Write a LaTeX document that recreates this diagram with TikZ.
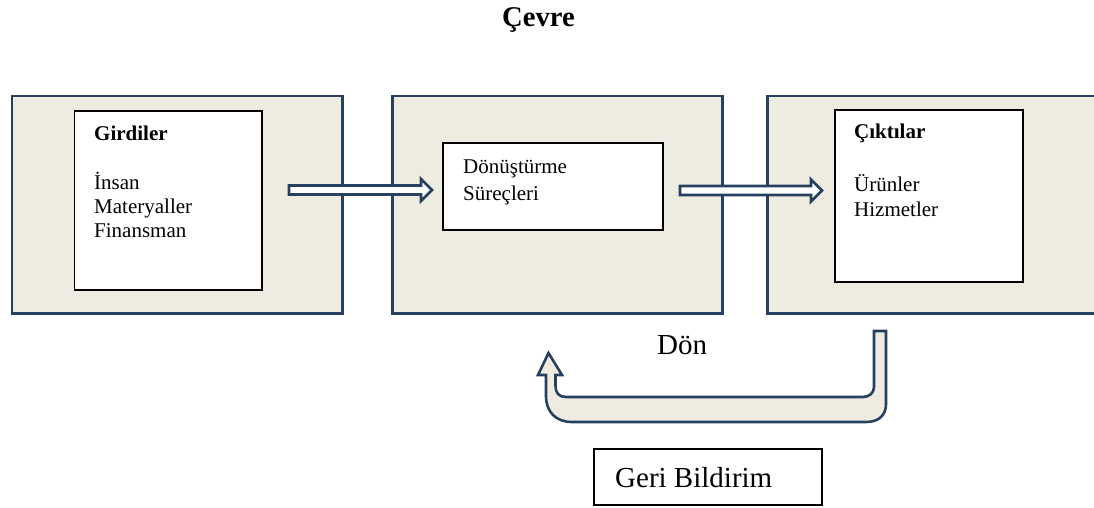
\documentclass[tikz,border=0pt]{standalone}
\usepackage{fontspec}
\setmainfont{Liberation Serif}
\definecolor{framecol}{HTML}{26405F}
\definecolor{panelcol}{HTML}{EEECE1}
\begin{document}
\begin{tikzpicture}[x=1pt,y=-1pt,
  envbox/.style={draw=framecol, fill=panelcol, line width=2.5pt, rectangle,
                 inner sep=0pt, anchor=north west},
  whitebox/.style={draw=black, fill=white, line width=1.6pt, rectangle,
                   inner sep=0pt, anchor=north west},
  blockarrow/.style={draw=framecol, fill=white, line width=2.8pt, line join=miter},
  turnarrow/.style={draw=framecol, fill=panelcol, line width=2.6pt, line join=miter},
  txt/.style={anchor=base west, inner sep=0pt, font=\fontsize{21}{24}\selectfont},
  bigtxt/.style={anchor=base west, inner sep=0pt, font=\fontsize{29}{33}\selectfont},
  headtxt/.style={txt, font=\fontsize{21}{24}\selectfont\bfseries}]
\useasboundingbox (0,0) rectangle (1094,508);
\clip (0,0) rectangle (1094,508);

% title
\node[anchor=base, inner sep=0pt, font=\fontsize{28.6}{32}\selectfont\bfseries]
  (title) at (538.5,27) {Çevre};

% three stages
\node[envbox, minimum width=330.5pt, minimum height=217pt] (inputs)  at (10.5,95) {};
\node[envbox, minimum width=330pt,   minimum height=217pt] (process) at (391,95) {};
\node[envbox, minimum width=340pt,   minimum height=217pt] (outputs) at (766,95) {};

\node[whitebox, minimum width=187.5pt, minimum height=179pt] (inbox)   at (73.5,110) {};
\node[whitebox, minimum width=220pt,   minimum height=87pt]  (procbox) at (442,142) {};
\node[whitebox, minimum width=188pt,   minimum height=172pt] (outbox)  at (834,109) {};

% texts of the stages
\node[headtxt] (girdiler) at (94,140) {Girdiler};
\node[txt] (insan) at (94,189) {İnsan};
\node[txt] (materyal) at (94,213) {Materyaller};
\node[txt] (finans) at (94,237) {Finansman};

\node[txt] (donustur) at (463,173) {Dönüştürme};
\node[txt] (surec) at (463,200) {Süreçleri};

\node[headtxt] (ciktilar) at (854,139) {Çıktılar};
\node[txt] (urun) at (854,191) {Ürünler};
\node[txt] (hizmet) at (854,216) {Hizmetler};

% block arrows between the stages
\draw[blockarrow] (289,185.5) -- (421,185.5) -- (421,179) -- (432,190)
  -- (421,201) -- (421,194.5) -- (289,194.5) -- cycle;
\draw[blockarrow] (680,186) -- (811,186) -- (811,179.5) -- (822,190.5)
  -- (811,201.5) -- (811,195) -- (680,195) -- cycle;

% feedback loop
\draw[turnarrow] (874,331) -- (886,331) -- (886,404)
  .. controls (886,415) and (879,422) .. (866,422)
  -- (572,422) .. controls (556,422) and (546,412) .. (546,396)
  -- (546,375) -- (538,375) -- (548.5,353) -- (562,375) -- (555.5,375)
  -- (555.5,386) .. controls (555.5,393) and (559,397) .. (566,397)
  -- (863,397) .. controls (869,397) and (874,393) .. (874,387) -- cycle;

\node[bigtxt] (don) at (657,354) {Dön};

\node[whitebox, line width=1.8pt, minimum width=228pt, minimum height=56pt]
  (feedback) at (593,448) {};
\node[bigtxt] (geri) at (615,487) {Geri Bildirim};
\end{tikzpicture}
\end{document}
